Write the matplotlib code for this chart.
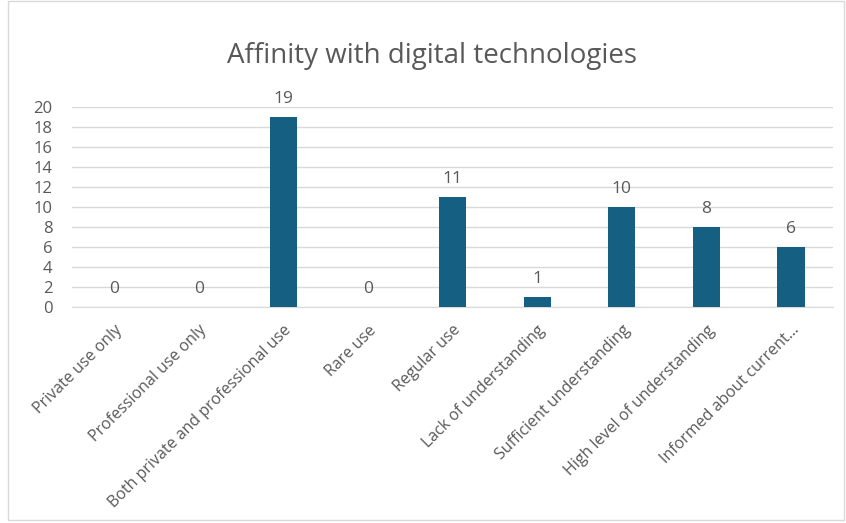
import matplotlib
matplotlib.use("Agg")
import matplotlib.pyplot as plt
from matplotlib.patches import Rectangle

categories = ["Private use only", "Professional use only", "Both private and professional use",
              "Rare use", "Regular use", "Lack of understanding", "Sufficient understanding",
              "High level of understanding", "Informed about current\u2026"]
values = [0, 0, 19, 0, 11, 1, 10, 8, 6]
yticks = [0, 2, 4, 6, 8, 10, 12, 14, 16, 18, 20]

plt.rcParams['font.family'] = ['Open Sans', 'DejaVu Sans']
text_color = "#595959"
fig = plt.figure(figsize=(8.46, 5.23), dpi=100)
ax = fig.add_axes([0.085, 0.413, 0.900, 0.382])

x = list(range(len(categories)))
ax.bar(x, values, width=0.32, color="#156082", zorder=3)
for xi, v in zip(x, values):
    ax.annotate(str(v), (xi, v), xytext=(0, 7), textcoords="offset points",
                ha="center", va="bottom", fontsize=12.5, color=text_color)

ax.set_xlim(-0.5, len(categories) - 0.5)
ax.set_ylim(0, 20)
ax.set_yticks(yticks)
ax.set_yticklabels([str(t) for t in yticks], fontsize=12, color=text_color)
ax.set_xticks(x)
ax.set_xticklabels(categories, rotation=45, ha="right", va="top", rotation_mode="anchor",
                   fontsize=11.5, color=text_color)
ax.tick_params(axis="both", length=0)
ax.tick_params(axis="x", pad=11)
ax.tick_params(axis="y", pad=14)
ax.yaxis.grid(True, color="#d9d9d9", linewidth=1, zorder=0)
for s in ["top", "right", "left"]:
    ax.spines[s].set_visible(False)
ax.spines["bottom"].set_color("#d9d9d9")
ax.spines["bottom"].set_zorder(1)

fig.text(0.511, 0.893, "Affinity with digital technologies", ha="center", va="center",
         fontsize=20, color=text_color)

fig.patches.append(Rectangle((0.010, 0.005), 0.988, 0.994, transform=fig.transFigure,
                             fill=False, edgecolor="#d9d9d9", linewidth=1))

fig.savefig("out.png", dpi=100)
